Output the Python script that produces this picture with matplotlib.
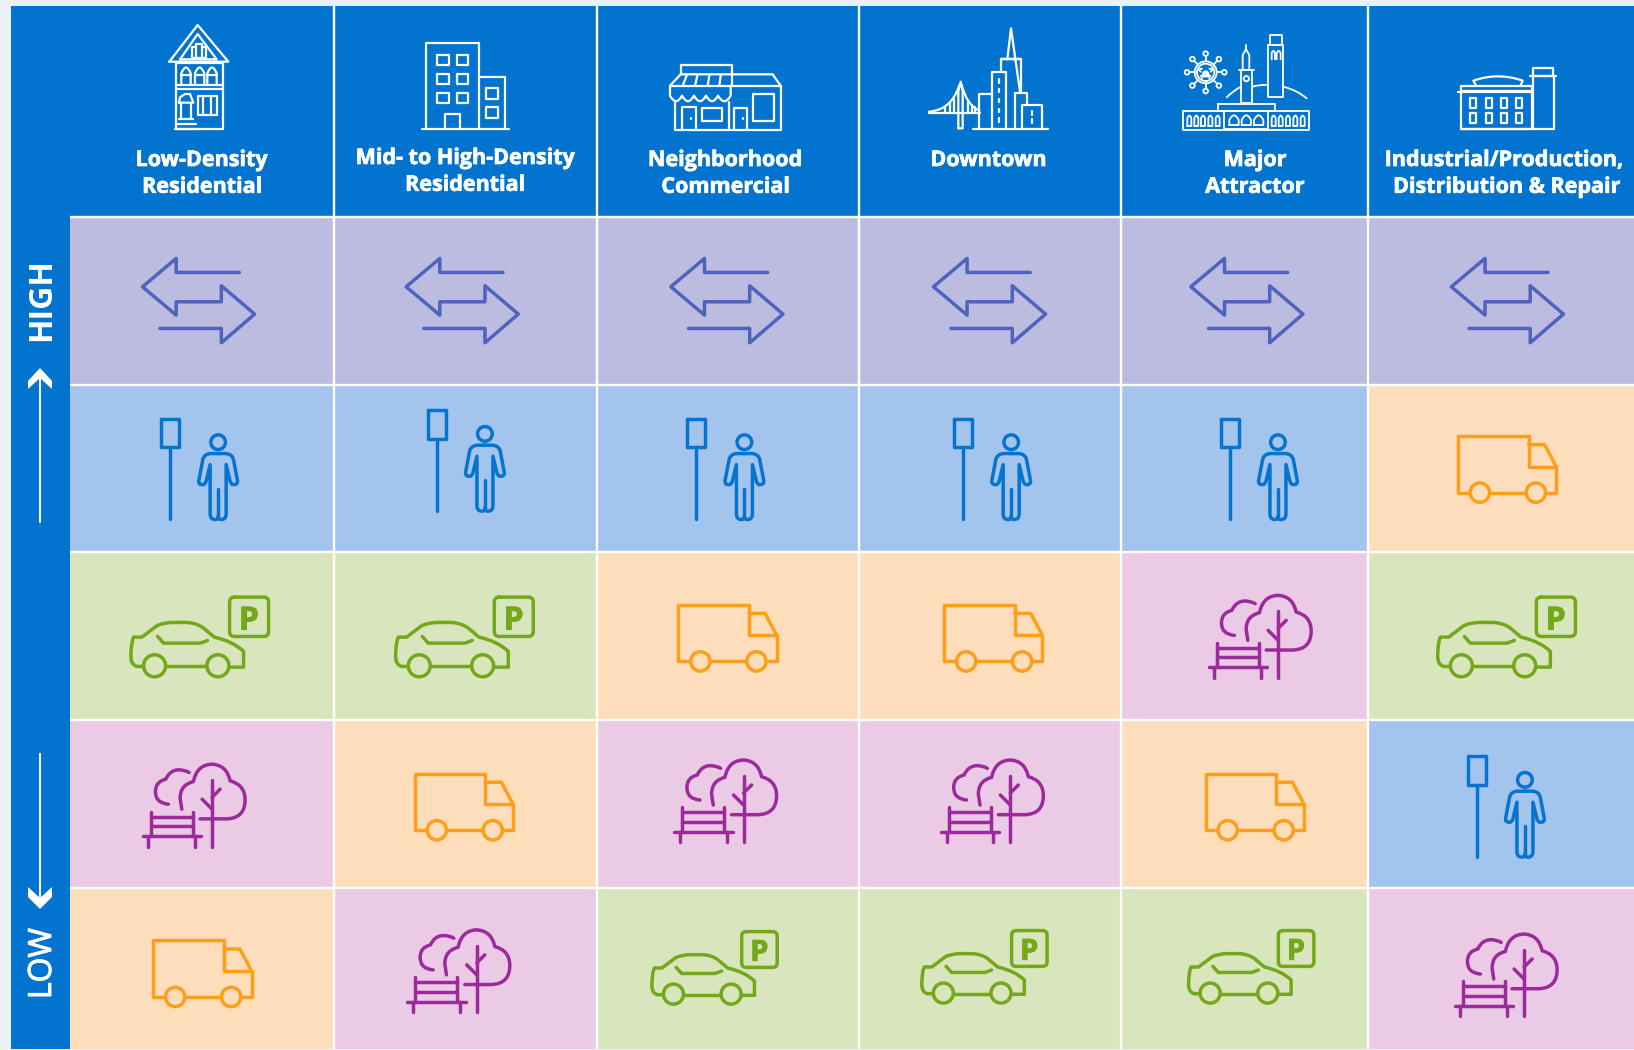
import numpy as np
import matplotlib
matplotlib.use("Agg")
import matplotlib.pyplot as plt
import matplotlib.patheffects as pe
from matplotlib.path import Path
from matplotlib.patches import PathPatch, Rectangle, Polygon

# ---------- content ----------
columns = ["Low-Density\nResidential", "Mid- to High-Density\nResidential",
           "Neighborhood\nCommercial", "Downtown", "Major\nAttractor",
           "Industrial/Production,\nDistribution & Repair"]
priority_high = "HIGH"
priority_low = "LOW"
modes_by_rank = [
    ["through", "through", "through", "through", "through", "through"],
    ["transit", "transit", "transit", "transit", "transit", "freight"],
    ["parking", "parking", "freight", "freight", "public", "parking"],
    ["public", "freight", "public", "public", "freight", "transit"],
    ["freight", "public", "parking", "parking", "parking", "public"],
]

# ---------- layout and colours ----------
W, H = 1634, 1050
BG = "#EAF0F4"
BLUE = "#0273CF"
col_edges = [70, 334.5, 597, 859, 1121, 1368, 1634]
row_edges = [216.5, 384.5, 552, 720, 887.5, 1049]
fill = {"through": "#BCBCE1", "transit": "#A3C4EC", "parking": "#D9E5BC",
        "freight": "#FEDDBB", "public": "#EBCAE5"}
ink = {"through": "#4F62BD", "transit": "#0674CF", "parking": "#72A819",
       "freight": "#FF9E1B", "public": "#9C2A9B"}
K = 1634 / 1568

fig = plt.figure(figsize=(W / 100, H / 100), dpi=100, facecolor=BG)
ax = fig.add_axes([0, 0, 1, 1])
ax.set_xlim(0, W)
ax.set_ylim(H, 0)
ax.axis("off")
FONT = ["Open Sans", "DejaVu Sans"]


def stroke(items, ox, oy, sx, sy, color, lw):
    """items: polylines in source coordinates. A point is (x, y) or
    (cx, cy, x, y) for a quadratic segment; ('c', x, y, r) is a circle."""
    for it in items:
        if it[0] == "c":
            _, cx, cy, r = it
            c = Path.unit_circle()
            v = c.vertices * [r * sx, r * sy] + [ox + cx * sx, oy + cy * sy]
            ax.add_patch(PathPatch(Path(v, c.codes), fc="none", ec=color, lw=lw, zorder=4))
            continue
        verts, codes = [], []
        for i, p in enumerate(it):
            if len(p) == 2:
                verts.append(p)
                codes.append(Path.MOVETO if i == 0 else Path.LINETO)
            else:
                verts += [p[:2], p[2:]]
                codes += [Path.CURVE3, Path.CURVE3]
        v = np.array(verts, float) * [sx, sy] + [ox, oy]
        ax.add_patch(PathPatch(Path(v, codes), fc="none", ec=color, lw=lw,
                               capstyle="round", joinstyle="round", zorder=4))


def box(x0, y0, x1, y1):
    return [(x0, y0), (x1, y0), (x1, y1), (x0, y1), (x0, y0)]


# ---------- mode icons ----------
ARROWS = [[(625, 817), (460, 817), (460, 775), (372, 860), (460, 945), (460, 905), (578, 905),
           (578, 857), (665, 942), (578, 1028), (578, 985), (418, 985)]]
TRUCK = [[(496, 828), (460, 828), (460, 658), (672, 658), (672, 750), (755, 750), (755, 828), (722, 828)],
         [(556, 828), (664, 828)], [(672, 684), (720, 684), (755, 750)],
         ("c", 526, 828, 29), ("c", 694, 828, 29)]
PERSON = [box(482, 112, 537, 197), [(510, 197), (510, 413)], ("c", 654, 183, 22),
          [(654, 217), (632, 217), (612, 218, 608, 235), (596, 298), (594, 312, 610, 310), (614, 310, 618, 300),
           (630, 250), (630, 398), (630, 415, 645, 415), (654, 415, 654, 405),
           (654, 415, 663, 415), (678, 415, 678, 398), (678, 250), (690, 300), (694, 310, 698, 310),
           (714, 312, 712, 298), (700, 235), (696, 218, 676, 217), (654, 217)],
          [(654, 322), (654, 405)]]
CAR = [[(430, 860), (410, 860), (392, 855, 392, 830), (392, 790, 400, 772), (425, 772), (470, 738),
        (490, 728, 520, 728), (560, 728), (590, 730, 610, 745), (642, 772), (700, 785, 730, 815),
        (730, 862), (690, 862)],
       [(500, 860), (617, 860)], ("c", 463, 858, 33), ("c", 653, 858, 33),
       [(472, 770), (490, 790), (600, 790), (622, 782)],
       [(703, 652), (790, 652), (805, 652, 805, 667), (805, 755), (805, 770, 790, 770), (703, 770),
        (688, 770, 688, 755), (688, 667), (688, 652, 703, 652)]]
PUBLIC = [[(600, 297), (680, 297), (735, 295, 735, 240), (735, 195, 690, 183), (680, 135, 635, 133),
           (590, 135, 580, 185), (540, 195, 540, 235), (545, 268)],
          [(636, 180), (636, 380)], [(606, 238), (636, 268)], [(636, 232), (660, 208)],
          [(505, 253), (466, 250, 466, 215), (466, 185, 497, 178), (510, 150, 535, 150), (555, 150, 567, 158)],
          [(452, 275), (452, 345)], [(578, 275), (578, 345)], [(452, 290), (578, 290)], [(452, 318), (578, 318)],
          [(428, 348), (603, 348)], [(445, 348), (445, 380)], [(585, 348), (585, 380)]]

# left / top of each icon in the picture, per cell (rank, column)
anchors = {
    (0, 0): (136, 248), (0, 1): (389, 248), (0, 2): (643, 248), (0, 3): (895, 248), (0, 4): (1142, 248), (0, 5): (1392, 248),
    (1, 0): (154, 401), (1, 1): (410, 393), (1, 2): (659, 401), (1, 3): (915, 401), (1, 4): (1171, 401), (1, 5): (1399, 418),
    (2, 0): (125, 573), (2, 1): (379, 573), (2, 2): (651, 580), (2, 3): (906, 580), (2, 4): (1160, 571), (2, 5): (1379, 573),
    (3, 0): (137, 733), (3, 1): (398, 742), (3, 2): (647, 729), (3, 3): (903, 729), (3, 4): (1157, 742), (3, 5): (1408, 725),
    (4, 0): (147, 902), (4, 1): (391, 892), (4, 2): (625, 894), (4, 3): (884, 893), (4, 4): (1140, 893), (4, 5): (1396, 896),
}
icon = {"through": (ARROWS, 370, 775, 1 / 2.613, 1 / 3), "transit": (PERSON, 481, 110, 1 / 3, 1 / 3),
        "parking": (CAR, 390, 652, 1 / 3, 1 / 3), "freight": (TRUCK, 460, 657, 1 / 3, 1 / 3),
        "public": (PUBLIC, 428, 132, 1 / 3, 1 / 3)}

# ---------- panels ----------
ax.add_patch(Rectangle((11, 6), W - 11, 1049 - 6, fc=BLUE, ec="none", zorder=0))
for r, row in enumerate(modes_by_rank):
    for c, mode in enumerate(row):
        ax.add_patch(Rectangle((col_edges[c], row_edges[r]), col_edges[c + 1] - col_edges[c],
                               row_edges[r + 1] - row_edges[r], fc=fill[mode], ec="none", zorder=1))
        items, x0, y0, sx, sy = icon[mode]
        s = 0.91 if (mode == "parking" and r == 4) else 1.0
        L, T = anchors[(r, c)]
        L, T = L * K, T * K
        stroke(items, L - x0 * sx * s, T - y0 * sy * s, sx * s, sy * s, ink[mode], 2.5)
        if mode == "parking":
            ax.text(L + (746 - x0) * sx * s, T + (712 - y0) * sy * s, "P", color=ink[mode], family=FONT,
                    weight="bold", fontsize=23 * s, ha="center", va="center_baseline", zorder=5,
                    path_effects=[pe.withStroke(linewidth=0.6, foreground=ink[mode])])

for x in col_edges[1:-1]:
    ax.plot([x, x], [6, 1049], color="white", lw=1.7, zorder=3, solid_capstyle="butt")
for y in row_edges[:-1]:
    ax.plot([70, W], [y, y], color="white", lw=1.7, zorder=3, solid_capstyle="butt")

# ---------- header text ----------
centers = [201.5, 465, 725, 988.5, 1255, 1504]
base1 = [166, 164, 166, 166, 166, 166]
second_line_shift = [0.5, 0, 0.5, 0, 0, 2.5]
for c, label in enumerate(columns):
    for i, line in enumerate(label.split("\n")):
        ax.text(centers[c] + i * second_line_shift[c], base1[c] + i * 26.8, line, color="white", family=FONT,
                weight="bold", fontsize=15.5, ha="center", va="baseline", zorder=5,
                path_effects=[pe.withStroke(linewidth=0.5, foreground="white")])

# ---------- header icons (source is a 3x crop) ----------
T3 = 1 / 3
WH = "white"
HLW = 1.6
HOUSE = [box(48, 128, 188, 328), [(28, 125), (113, 15), (205, 125), (28, 125)],
         [(60, 118), (113, 42), (170, 118), (60, 118)],
         [(97, 115), (97, 82), (108, 82), (108, 72), (125, 72), (125, 82), (137, 82), (137, 115), (97, 115)],
         [(108, 82), (108, 115)], [(125, 82), (125, 115)],
         [(48, 195), (188, 195)], [(48, 207), (188, 207)],
         [(57, 248), (60, 232), (75, 222), (90, 222), (100, 248), (57, 248)], [(63, 248), (63, 297)], [(93, 248), (93, 297)],
         [(58, 297), (100, 297)], [(52, 312), (108, 312)], [(45, 328), (115, 328)],
         box(113, 227, 172, 285), [(130, 227), (130, 285)], [(152, 227), (152, 285)]]
for cx in (78, 119, 156):
    HOUSE += [[(cx - 14, 190), (cx - 14, 160), (cx, 125, cx + 14, 160), (cx + 14, 190)],
              [(cx - 14, 165), (cx + 14, 165)]]
stroke(HOUSE, 160, 20, T3, T3, WH, HLW)

BLOCK = [[(1113, 388), (1113, 128), (1252, 128), (1252, 388)], [(1252, 230), (1320, 230), (1320, 388)],
         [(1102, 388), (1330, 388)], [(1162, 388), (1162, 343), (1202, 343), (1202, 388)]]
for y in (165, 222, 278):
    for x in (1143, 1193):
        BLOCK.append(box(x, y, x + 29, y + 30))
BLOCK += [box(1270, 265, 1300, 298), box(1270, 322, 1300, 355)]
stroke(BLOCK, 0, 0, 1 / 2.613, T3, WH, HLW)

SHOP = [[(62, 58), (62, 30), (217, 30), (217, 92)], [(217, 58), (338, 58), (362, 92)],
        [(30, 92), (62, 58), (217, 58)], [(30, 92), (362, 92)],
        [(68, 92), (80, 62)], [(105, 92), (112, 62)], [(143, 92), (148, 62)], [(178, 92), (182, 62)],
        [(30, 92), (30, 122), (48, 155, 66, 122), (84, 155, 102, 122), (120, 155, 138, 122),
         (156, 155, 174, 122), (193, 155, 212, 122), (212, 92)],
        [(45, 145), (45, 225)], [(208, 140), (208, 225)], [(362, 92), (362, 225)], [(45, 225), (362, 225)],
        [(65, 225), (65, 157), (108, 157), (108, 225)], [(222, 225), (222, 160), (262, 160), (262, 225)],
        [(92, 188), (92, 192)], [(248, 188), (248, 192)],
        box(125, 160, 187, 197), box(280, 117, 342, 197)]
stroke(SHOP, 660, 55, T3, T3, WH, HLW)

CITY = [[(262, 118), (273, 25), (300, 215)], box(242, 118, 303, 118),
        [(242, 155), (242, 118), (303, 118), (303, 215)],
        [(217, 325), (217, 155), (258, 155), (258, 325)], [(178, 325), (178, 222), (217, 222)],
        [(285, 325), (285, 218), (322, 218), (322, 255)], [(307, 325), (307, 255), (367, 255), (367, 325)],
        [(158, 328), (385, 328)], [(335, 272), (335, 285)], [(335, 298), (335, 310)],
        [(115, 325), (115, 215), (122, 185), (128, 215), (128, 325), (115, 325)],
        [(27, 278), (180, 278)], [(27, 275), (95, 270, 118, 195)], [(125, 195), (140, 255, 178, 272)],
        [(75, 262), (75, 278)], [(90, 250), (90, 278)], [(101, 238), (101, 278)],
        [(145, 245), (145, 278)], [(155, 255), (155, 278)], [(165, 262), (165, 278)]]
for y in (178, 207, 237, 266, 295):
    CITY.append([(238, y), (238, y + 10)])
stroke(CITY, 920, 20, T3, T3, WH, HLW)

ATTR = [("c", 137, 157, 33), ("c", 137, 157, 26),
        [(243, 250), (243, 150), (275, 150), (275, 250), (243, 250)], [(236, 150), (282, 150)],
        [(248, 150), (248, 105), (258, 88), (268, 105), (268, 150)], [(258, 75), (258, 90)], ("c", 259, 176, 8),
        box(325, 75, 370, 232), [(330, 75), (330, 45), (365, 45), (365, 75)],
        [(335, 118), (335, 100), (340, 85, 345, 100), (345, 118)], [(350, 118), (350, 100), (356, 85, 362, 100), (362, 118)],
        [(200, 232), (220, 212, 243, 200)], [(278, 200), (300, 193, 325, 195)], [(370, 200), (410, 210, 440, 235)],
        box(70, 272, 447, 330), box(173, 252, 345, 272), box(192, 272, 325, 328),
        # crab on the ship's wheel
        ("c", 137, 162, 8), ("c", 137, 162, 4), [(122, 155), (115, 148), (126, 146)], [(152, 155), (159, 148), (148, 146)],
        [(122, 168), (130, 165)], [(152, 168), (144, 165)], [(125, 174), (131, 169)], [(149, 174), (143, 169)]]
for dx, dy in [(0, -1), (0, 1), (-1, 0), (1, 0), (-.71, -.71), (.71, -.71), (-.71, .71), (.71, .71)]:
    ATTR.append([(137 + dx * 33, 157 + dy * 33), (137 + dx * 49, 157 + dy * 49)])
    ATTR.append(("c", 137 + dx * 56, 157 + dy * 56, 7))
for x in (82, 103, 123, 145, 167, 335, 356, 378, 400, 422):
    ATTR.append([(x, 318), (x, 295), (x + 6, 278, x + 12, 295), (x + 12, 318), (x, 318)])
for x in (208, 245, 282):
    ATTR.append([(x, 315), (x, 300), (x + 14, 272, x + 28, 300), (x + 28, 315), (x, 315)])
stroke(ATTR, 1160, 20, T3, T3, WH, 1.3)

PLANT = [box(33, 93, 245, 208), [(25, 95), (245, 95)], [(33, 93), (33, 78), (245, 78), (245, 93)],
         [(78, 76), (70, 62), (145, 36, 218, 62), (212, 76)],
         [(248, 208), (248, 48), (312, 48), (312, 208)], [(248, 45), (248, 25), (310, 25), (310, 45)],
         [(240, 48), (318, 48)], [(33, 208), (312, 208)]]
for x in (60, 107, 152, 198):
    PLANT += [box(x, 113, x + 18, 145), box(x, 160, x + 18, 190)]
stroke(PLANT, 1450, 60, T3, T3, WH, HLW)

# ---------- priority axis ----------
ax.text(50.5, 300, priority_high, color="white", family=FONT, weight="bold", fontsize=23,
        rotation=90, rotation_mode="anchor", ha="center", va="baseline", zorder=5)
ax.text(51, 963.5, priority_low, color="white", family=FONT, weight="normal", fontsize=23,
        rotation=90, rotation_mode="anchor", ha="center", va="baseline", zorder=5,
        path_effects=[pe.withStroke(linewidth=0.7, foreground="white")])
ax.plot([40, 40], [375, 523], color="white", lw=1.4, zorder=5, solid_capstyle="butt")
ax.plot([40, 40], [752.7, 902], color="white", lw=1.4, zorder=5, solid_capstyle="butt")
ax.add_patch(Polygon([(28, 381), (40, 368), (52, 381), (52, 389), (40, 378), (28, 389)],
                     fc="white", ec="none", zorder=5))
ax.add_patch(Polygon([(28, 887), (40, 898), (52, 887), (52, 897), (40, 909), (28, 897)],
                     fc="white", ec="none", zorder=5))

fig.savefig("out.png", dpi=100, facecolor=BG)
